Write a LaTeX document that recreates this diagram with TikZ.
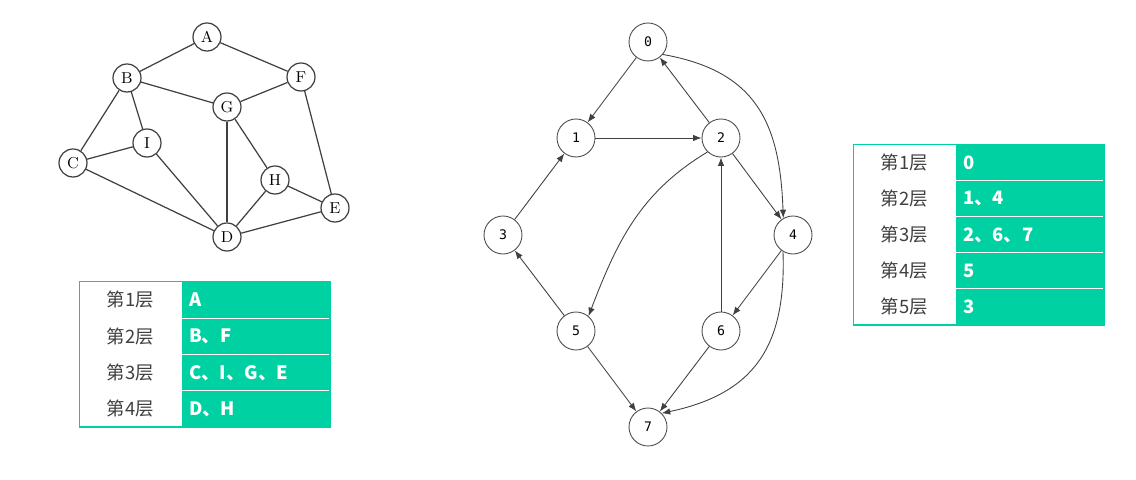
\documentclass[tikz,border=0pt]{standalone}
\usepackage{fontspec}
\newfontfamily\cjk{Noto Sans CJK SC}
\newfontfamily\digitfont{DejaVu Sans Mono}
\usetikzlibrary{arrows.meta}
\definecolor{layerteal}{RGB}{0,209,163}
\definecolor{labelgray}{RGB}{64,64,64}

\begin{document}
\begin{tikzpicture}[x=0.02cm, y=0.02cm, >={Latex[length=1.7mm,width=1.3mm]},
    vtx/.style={circle, draw=black!75, line width=0.7pt, fill=white, minimum size=0.56cm, inner sep=0pt, font=\fontsize{9}{10}\selectfont},
    dnode/.style={circle, draw=black!70, line width=0.5pt, fill=white, minimum size=0.76cm, inner sep=0pt, font=\digitfont\fontsize{7.5}{9}\selectfont},
    uedge/.style={draw=black!75, line width=0.7pt},
    dedge/.style={->, draw=black!75, line width=0.5pt},
    lvcell/.style={minimum width=2.02cm, minimum height=0.725cm, inner sep=0pt, text=labelgray, font=\cjk\fontsize{10.5}{12}\selectfont},
    valcell/.style={fill=layerteal, draw=white, line width=0.6pt, outer sep=0pt, text width=2.66cm, inner xsep=0.16cm, inner ysep=0pt, minimum height=0.725cm, align=left, text=white, font=\cjk\bfseries\fontsize{10.5}{12}\selectfont},
    tborder/.style={draw=layerteal, line width=0.9pt}]

    \useasboundingbox (0,0) rectangle (1136,480);

    % undirected graph on the left
    \node[vtx] (A) at (207,443) {A};
    \node[vtx] (B) at (127,402) {B};
    \node[vtx] (F) at (301,403) {F};
    \node[vtx] (G) at (227,373) {G};
    \node[vtx] (I) at (147,337) {I};
    \node[vtx] (C) at (73,317) {C};
    \node[vtx] (H) at (275,300) {H};
    \node[vtx] (E) at (335,272) {E};
    \node[vtx] (D) at (227,243) {D};

    \draw[uedge] (A) -- (B);
    \draw[uedge] (A) -- (F);
    \draw[uedge] (B) -- (G);
    \draw[uedge] (G) -- (F);
    \draw[uedge] (B) -- (I);
    \draw[uedge] (B) -- (C);
    \draw[uedge] (C) -- (I);
    \draw[uedge] (C) -- (D);
    \draw[uedge] (I) -- (D);
    \draw[uedge] (G) -- (D);
    \draw[uedge] (G) -- (H);
    \draw[uedge] (H) -- (D);
    \draw[uedge] (H) -- (E);
    \draw[uedge] (F) -- (E);
    \draw[uedge] (D) -- (E);

    % layer table for the left graph
    \node[lvcell] (l1) at (130.5,180) {第1层};
    \node[lvcell] (l2) at (130.5,143.5) {第2层};
    \node[lvcell] (l3) at (130.5,107) {第3层};
    \node[lvcell] (l4) at (130.5,71) {第4层};
    \node[valcell] (v1) at (255.5,180) {A};
    \node[valcell] (v2) at (255.5,143.5) {B、F};
    \node[valcell] (v3) at (255.5,107) {C、I、G、E};
    \node[valcell] (v4) at (255.5,71) {D、H};
    \draw[tborder] (l1.north west) rectangle (v4.south east);

    % directed graph in the middle
    \node[dnode] (n0) at (648,438) {0};
    \node[dnode] (n1) at (576,342) {1};
    \node[dnode] (n2) at (721,342) {2};
    \node[dnode] (n3) at (503,245) {3};
    \node[dnode] (n4) at (793,245) {4};
    \node[dnode] (n5) at (576,149) {5};
    \node[dnode] (n6) at (721,149) {6};
    \node[dnode] (n7) at (648,53) {7};

    \draw[dedge] (n0) -- (n1);
    \draw[dedge] (n1) -- (n2);
    \draw[dedge] (n2) -- (n0);
    \draw[dedge] (n2) -- (n4);
    \draw[dedge] (n3) -- (n1);
    \draw[dedge] (n5) -- (n3);
    \draw[dedge] (n4) -- (n6);
    \draw[dedge] (n6) -- (n2);
    \draw[dedge] (n5) -- (n7);
    \draw[dedge] (n6) -- (n7);
    \draw[dedge] (n0.-40) to[out=-10, in=92, looseness=1.2] (n4.120);
    \draw[dedge] (n2.226) to[out=211, in=69] (n5.50);
    \draw[dedge] (n4.239) to[out=-88, in=12, looseness=1.2] (n7.45);

    % layer table for the directed graph
    \node[lvcell] (r1) at (904.5,317) {第1层};
    \node[lvcell] (r2) at (904.5,281) {第2层};
    \node[lvcell] (r3) at (904.5,245) {第3层};
    \node[lvcell] (r4) at (904.5,209) {第4层};
    \node[lvcell] (r5) at (904.5,173) {第5层};
    \node[valcell] (w1) at (1029.5,317) {0};
    \node[valcell] (w2) at (1029.5,281) {1、4};
    \node[valcell] (w3) at (1029.5,245) {2、6、7};
    \node[valcell] (w4) at (1029.5,209) {5};
    \node[valcell] (w5) at (1029.5,173) {3};
    \draw[tborder] (r1.north west) rectangle (w5.south east);
\end{tikzpicture}
\end{document}
